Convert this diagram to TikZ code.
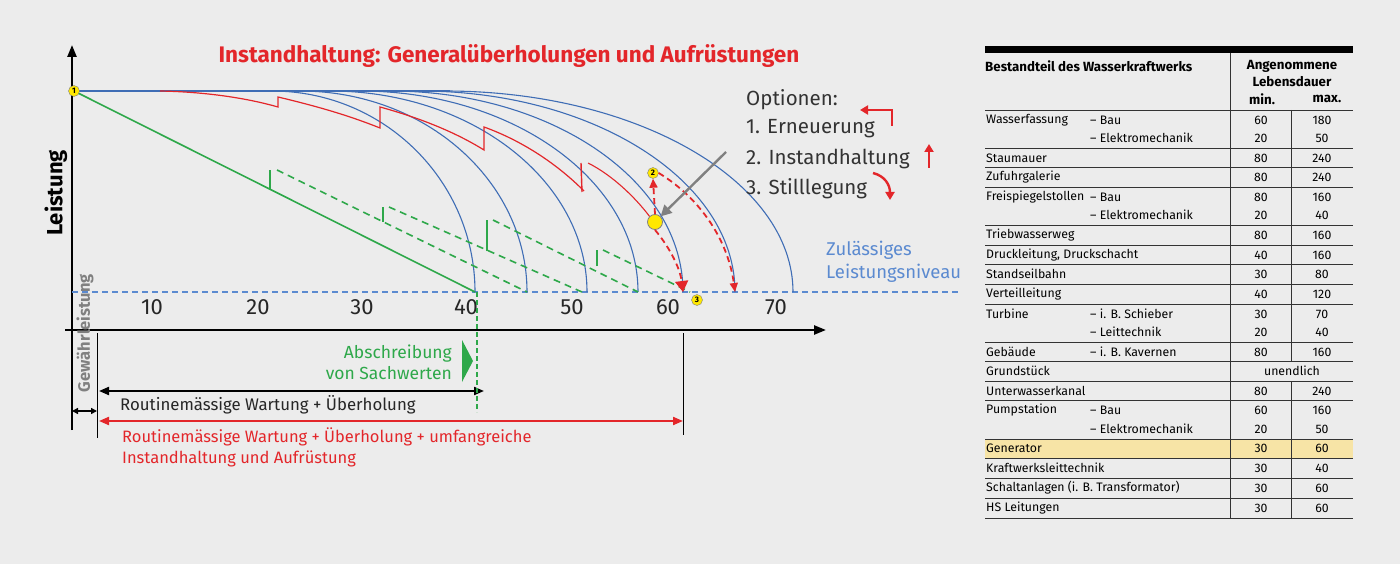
\documentclass[tikz,border=0pt]{standalone}
\usepackage{fontspec}
\setmainfont{Fira Sans}
\usetikzlibrary{arrows.meta}
\definecolor{bg}{HTML}{ECECEC}
\definecolor{cblue}{HTML}{3F6DB5}
\definecolor{lblue}{HTML}{5B8AD0}
\definecolor{cred}{HTML}{E3262A}
\definecolor{cgreen}{HTML}{2EA84A}
\definecolor{cgray}{HTML}{808080}
\definecolor{cyel}{HTML}{FFE800}
\definecolor{gen}{HTML}{F7E4A6}
\tikzset{
  bcurve/.style={cblue, line width=1.1pt},
  gline/.style={cgreen, line width=1.6pt},
  gdash/.style={cgreen, line width=1.6pt, dash pattern=on 7pt off 5pt},
  rdash/.style={cred, line width=1.8pt, dash pattern=on 6pt off 4pt, -{Triangle[length=9pt,width=8pt]}},
  mark1/.style={circle, draw=cgray, fill=cyel, inner sep=0pt, minimum size=11pt, font=\bfseries\fontsize{8}{8}\selectfont},
  tcell/.style={anchor=west, inner sep=0pt, font=\fontsize{12.3}{15}\selectfont},
  tnum/.style={inner sep=0pt, font=\fontsize{12.3}{15}\selectfont},
  thead/.style={inner sep=0pt, font=\bfseries\fontsize{13.3}{16}\selectfont},
  rowline/.style={line width=0.8pt, black!80},
  opt/.style={anchor=west, inner sep=0pt, font=\fontsize{20.5}{24}\selectfont, black!80},
}
\begin{document}
\begin{tikzpicture}[x=1pt,y=-1pt]
\fill[bg] (0,0) rectangle (1400,564);
\useasboundingbox (0,0) rectangle (1400,564);
% title
\node[cred, font=\bfseries\fontsize{22.5}{26}\selectfont] (title) at (509,56) {Instandhaltung: Generalüberholungen und Aufrüstungen};
% axes
\coordinate (ybot) at (72,430); \coordinate (ytop) at (72,45);
\coordinate (xl) at (65,330); \coordinate (xr) at (826,330);
\draw[line width=2.4pt, -{Triangle[length=12pt,width=9pt]}] (ybot) -- (ytop);
\draw[line width=2.4pt, -{Triangle[length=12pt,width=9pt]}] (xl) -- (xr);
\node[rotate=90, font=\bfseries\fontsize{22}{26}\selectfont] (leist) at (56,193) {Leistung};
% permitted level
\coordinate (pl) at (72,292); \coordinate (pr) at (960,292);
\draw[lblue, line width=1.1pt, dash pattern=on 6pt off 4pt] (pl) -- (pr);
\node[anchor=west, lblue, align=left, inner sep=0pt, font=\fontsize{18.5}{23}\selectfont] (zul) at (826,262) {Zulässiges\\Leistungsniveau};
% ticks
\foreach \v/\x in {10/152,20/258,30/362,40/466,50/572,60/668,70/776}
  \node[font=\fontsize{22}{24}\selectfont, black!85] (t\v) at (\x,307) {\v};
% blue curves
\draw[bcurve] (74,91) -- (450,91);
\foreach \a/\b in {272/475, 300/527, 330/587, 360/638, 390/683, 420/735, 445/793}{
  \pgfmathsetmacro{\ca}{\a+0.552*(\b-\a)}
  \draw[bcurve] (\a,91) .. controls (\ca,91) and (\b,181) .. (\b,292);
}
% red curve
\draw[cred, line width=1.2pt] (160,91) .. controls (210,92) and (250,99) .. (278,107) -- (278,97)
  .. controls (320,107) and (350,116) .. (380,128) -- (380,107)
  .. controls (420,118) and (455,132) .. (484,150) -- (484,127)
  .. controls (520,140) and (555,162) .. (584,191);
\draw[cred, line width=1.4pt] (581,163) -- (582,192);
\draw[cred, line width=1.1pt] (588,163) .. controls (612,175) and (635,197) .. (650,217);
% green
\draw[gline] (74,91) -- (475,292);
\draw[gline] (270,189) -- (270,170);
\draw[gline] (383,222) -- (383,207);
\draw[gline] (487,251) -- (487,220);
\draw[gline] (597,266) -- (597,250);
\draw[gdash] (277,170) -- (527,292);
\draw[gdash] (389,207) -- (582,292);
\draw[gdash] (493,220) -- (638,292);
\draw[gdash] (603,250) -- (690,292);
% markers
\node[mark1] (m1) at (74,91) {1};
\node[mark1] (m2) at (653,173) {2};
\node[mark1] (m3) at (697,300) {3};
\node[circle, draw=cgray, fill=cyel, line width=0.8pt, minimum size=15pt, inner sep=0pt] (my) at (655,222) {};
% red dashed options
\draw[rdash] (my.north) -- (m2.south);
\draw[rdash] (m2.east) .. controls (700,198) and (728,240) .. (735,292);
\draw[rdash, -{Triangle[length=11pt,width=13pt]}] (my.south) .. controls (670,248) and (680,268) .. (683,292);
% gray pointer
\coordinate (gp) at (726,152);
\draw[cgray, line width=2.4pt, -{Triangle[length=11pt,width=11pt]}] (gp) -- (my.north east);
% options text
\node[opt] (o0) at (746,100) {Optionen:};
\node[opt] (o1) at (746,129) {1. Erneuerung};
\node[opt] (o2) at (746,159) {2. Instandhaltung};
\node[opt] (o3) at (746,189) {3. Stilllegung};
\coordinate (e1) at (892,126); \coordinate (e2) at (892,110); \coordinate (e3) at (860,110);
\draw[cred, line width=2.4pt, -{Triangle[length=8pt,width=9pt]}] (e1) -- (e2) -- (e3);
\coordinate (i1) at (929,168); \coordinate (i2) at (929,144);
\draw[cred, line width=2.4pt, -{Triangle[length=8pt,width=9pt]}] (i1) -- (i2);
\coordinate (s1) at (873,173); \coordinate (s2) at (890,200);
\draw[cred, line width=2.4pt, -{Triangle[length=8pt,width=9pt]}] (s1) .. controls (885,176) and (890,185) .. (s2);
% bottom
\node[rotate=90, cgray, font=\bfseries\fontsize{16.5}{18}\selectfont] (gew) at (85,333) {Gewährleistung};
\coordinate (v1a) at (97,333); \coordinate (v1b) at (97,438);
\draw[line width=0.8pt] (v1a) -- (v1b);
\coordinate (v2a) at (683,333); \coordinate (v2b) at (683,435);
\draw[line width=0.8pt] (v2a) -- (v2b);
\draw[line width=1.6pt, {Triangle[length=6pt,width=6pt]}-{Triangle[length=6pt,width=6pt]}] (72,411) -- (97,411);
\draw[line width=2pt, {Triangle[length=10pt,width=8pt]}-{Triangle[length=10pt,width=8pt]}] (99,391) -- (484,391);
\draw[cred, line width=2pt, {Triangle[length=10pt,width=8pt]}-{Triangle[length=10pt,width=8pt]}] (99,421) -- (683,421);
\draw[cgreen, line width=1.3pt, dash pattern=on 5pt off 3pt] (477,292) -- (477,412);
\fill[cgreen] (462,340) -- (473,361) -- (462,382) -- cycle;
\node[anchor=east, align=right, cgreen, inner sep=0pt, font=\fontsize{17.5}{21}\selectfont] (abs) at (452,362) {Abschreibung\\von Sachwerten};
\node[anchor=west, inner sep=0pt, black!85, font=\fontsize{16.8}{18}\selectfont] (rw) at (120,405) {Routinemässige Wartung + Überholung};
\node[anchor=west, align=left, inner sep=0pt, cred, font=\fontsize{16.5}{21}\selectfont] (rw2) at (122,447) {Routinemässige Wartung + Überholung + umfangreiche\\Instandhaltung und Aufrüstung};
% ===== table =====
\fill[gen] (985,439) rectangle (1353,458);
\fill[black] (985,46) rectangle (1353,53);
\draw[rowline] (1230,53) -- (1230,518);
\draw[rowline] (1291,110) -- (1291,361);
\draw[rowline] (1291,381) -- (1291,518);
\foreach \y in {110,148,167,187,225,245,264,284,304,342,361,381,400,439,458,478,498,518}
  \draw[rowline] (985,\y) -- (1353,\y);
\node[thead, anchor=west] (h1) at (985,66) {Bestandteil des Wasserkraftwerks};
\node[thead] (h2) at (1292,66) {Angenommene};
\node[thead] (h2b) at (1292,82) {Lebensdauer};
\node[thead] (h3) at (1262,99) {min.};
\node[thead] (h4) at (1327,99) {max.};
\foreach \y/\n/\s/\a/\b in {
  120/Wasserfassung/– Bau/60/180, 138//– Elektromechanik/20/50,
  158/Staumauer//80/240, 177/Zufuhrgalerie//80/240,
  197/Freispiegelstollen/– Bau/80/160, 215//– Elektromechanik/20/40,
  235/Triebwasserweg//80/160, 255/{Druckleitung, Druckschacht}//40/160,
  274/Standseilbahn//30/80, 294/Verteilleitung//40/120,
  314/Turbine/– i. B. Schieber/30/70, 332//– Leittechnik/20/40,
  352/Gebäude/– i. B. Kavernen/80/160,
  391/Unterwasserkanal//80/240,
  410/Pumpstation/– Bau/60/160, 429//– Elektromechanik/20/50,
  448/Generator//30/60, 468/Kraftwerksleittechnik//30/40,
  488/Schaltanlagen (i. B. Transformator)//30/60, 508/HS Leitungen//30/60}{
  \node[tcell] at (986,\y) {\n};
  \node[tcell] at (1090,\y) {\s};
  \node[tnum] at (1261,\y) {\a};
  \node[tnum] at (1322,\y) {\b};
}
\node[tcell] (gr) at (986,371) {Grundstück};
\node[tnum] (un) at (1292,371) {unendlich};
\end{tikzpicture}
\end{document}
